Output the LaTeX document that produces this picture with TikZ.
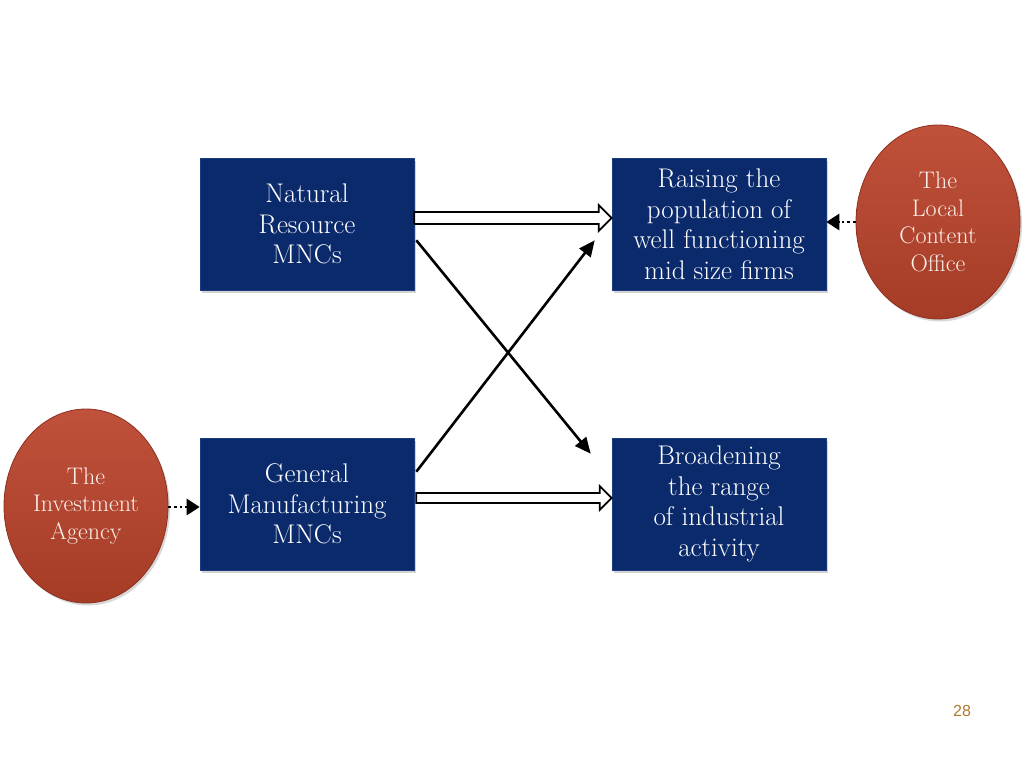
\documentclass[tikz,border=0pt]{standalone}
\usepackage{fontspec}
\newfontfamily\pagefont{Liberation Sans}
\usetikzlibrary{shapes.geometric,arrows.meta,calc,shadows}
\definecolor{navy}{HTML}{0B2A6C}
\definecolor{navyedge}{HTML}{1C3C80}
\definecolor{ovaltop}{HTML}{C0513B}
\definecolor{ovalbot}{HTML}{A53C26}
\definecolor{ovaledge}{HTML}{8E3020}
\definecolor{ovaltext}{HTML}{FBEFEA}
\definecolor{pagenum}{HTML}{B07A2E}
\tikzset{
  box/.style={rectangle, draw=navyedge, line width=0.6pt, fill=navy, minimum width=214pt, minimum height=132pt,
    text=white, align=center, font=\fontsize{27}{30.5}\selectfont, inner sep=0pt,
    drop shadow={opacity=0.35, shadow xshift=2pt, shadow yshift=-2.5pt}},
  oval/.style={ellipse, draw=ovaledge, line width=0.8pt, top color=ovaltop, bottom color=ovalbot,
    minimum width=164pt, minimum height=194pt, inner sep=0pt,
    text=ovaltext, align=center, font=\fontsize{24}{27.5}\selectfont,
    drop shadow={opacity=0.3, shadow xshift=2pt, shadow yshift=-2.5pt}},
  hollow/.style={draw=black, line width=1.8pt, fill=white, line join=miter},
  cross/.style={draw=black, line width=2.6pt, -{Triangle[length=16pt,width=14pt]}},
  dotarrow/.style={draw=black, line width=2.8pt, dash pattern=on 2.8pt off 2.8pt, -{Triangle[length=13pt,width=16pt]}},
}
\begin{document}
\begin{tikzpicture}[x=1pt,y=-1pt]
\useasboundingbox[fill=white] (0,0) rectangle (1024,768);

\node[box] (nr) at (307,224) {Natural\\Resource\\MNCs};
\node[box] (ra) at (719,224) {Raising the\\population of\\well functioning\\mid size firms};
\node[box] (gm) at (307,504) {General\\Manufacturing\\MNCs};
\node[box] (br) at (719,504) {Broadening\\the range\\of industrial\\activity};

\node[oval] (lc) at (938,222) {The\\Local\\Content\\Office};
\node[oval] (ia) at (86,506) {The\\Investment\\Agency};

% hollow arrows
\draw[hollow] ($(nr.east)+(0,-12)$) -- ($(ra.west)+(-13,-12)$) -- ($(ra.west)+(-13,-19)$)
  -- ($(ra.west)+(0,-6)$) -- ($(ra.west)+(-13,7)$) -- ($(ra.west)+(-13,0)$) -- ($(nr.east)+(0,0)$) -- cycle;
\draw[hollow] ($(gm.east)+(2,-11)$) -- ($(br.west)+(-12,-11)$) -- ($(br.west)+(-12,-18)$)
  -- ($(br.west)+(0,-6)$) -- ($(br.west)+(-12,6)$) -- ($(br.west)+(-12,-1)$) -- ($(gm.east)+(2,-1)$) -- cycle;

% crossing arrows
\draw[cross] ($(nr.south east)+(2,-50)$) -- ($(br.north west)+(-21,16)$);
\draw[cross] ($(gm.north east)+(2,34)$) -- ($(ra.south west)+(-17,-50)$);

% dotted arrows
\draw[dotarrow] (lc.west |- 0,222) -- (ra.east |- 0,222);
\draw[dotarrow] ($(ia.east)+(0,1)$) -- (gm.west |- 0,507);

\node[font=\pagefont\fontsize{16}{18}\selectfont, text=pagenum] (pg) at (962,711) {28};
\end{tikzpicture}
\end{document}
